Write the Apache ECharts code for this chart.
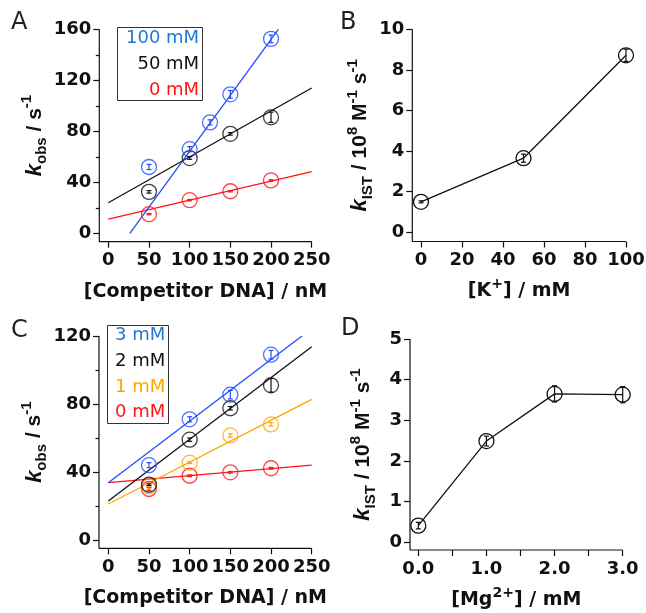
<!DOCTYPE html>
<html>
<head>
<meta charset="utf-8">
<script src="https://cdn.jsdelivr.net/npm/echarts@6.0.0/dist/echarts.min.js"></script>
<style>
    html, body { margin: 0; padding: 0; background: #fff; }
    #chart { width: 646px; height: 613px; }
</style>
</head>
<body>
<div id="chart"></div>
<script type="text/javascript">
    // ---- panel A : k_obs vs competitor DNA, different [K+] ----
    var dnaA_100 = [50, 100, 125, 150, 200];
    var kobsA_100 = [52, 66, 87, 109, 152.5];
    var errA_100 = [2, 2, 2, 3, 3];
    var dnaA = [50, 100, 150, 200];
    var kobsA_50 = [32.5, 59, 78, 91];
    var errA_50 = [1, 1, 1, 4];
    var kobsA_0 = [15, 26, 33, 41.5];
    var errA_0 = [0.5, 0.5, 0.5, 0.5];
    // fitted lines, end points
    var fitA_100 = [[26.5, 0], [209, 160]];
    var fitA_50 = [[0, 24], [250, 114]];
    var fitA_0 = [[0, 11.2], [250, 48.4]];

    // ---- panel B : k_IST vs [K+] ----
    var kConc = [0, 50, 100];
    var kistB = [1.5, 3.65, 8.72];
    var errB = [0.05, 0.2, 0.3];

    // ---- panel C : k_obs vs competitor DNA, different [Mg2+] ----
    var dnaC = [50, 100, 150, 200];
    var kobsC_3 = [44, 71, 85.5, 109];
    var errC_3 = [1.5, 1.5, 2.5, 2.5];
    var kobsC_2 = [32.5, 59, 77.5, 91];
    var errC_2 = [0.5, 1, 1, 4];
    var kobsC_1 = [31.5, 45.5, 61.5, 68];
    var errC_1 = [1.5, 0.5, 1, 1];
    var kobsC_0 = [30, 37.8, 39.8, 42.2];
    var errC_0 = [1, 0.5, 0.5, 0.5];
    var fitC_3 = [[0, 33.7], [238, 120]];
    var fitC_2 = [[0, 23], [250, 113.7]];
    var fitC_1 = [[0, 21.2], [250, 82.7]];
    var fitC_0 = [[0, 33.7], [250, 44.1]];

    // ---- panel D : k_IST vs [Mg2+] ----
    var mgConc = [0, 1, 2, 3];
    var kistD = [0.41, 2.49, 3.65, 3.63];
    var errD = [0.08, 0.12, 0.2, 0.2];

    // tick values
    var ticksDNA = [0, 50, 100, 150, 200, 250];
    var ticksA = [0, 40, 80, 120, 160];
    var minorA = [20, 60, 100, 140];
    var ticksK = [0, 20, 40, 60, 80, 100];
    var ticksB = [0, 2, 4, 6, 8, 10];
    var ticksC = [0, 40, 80, 120];
    var minorC = [20, 60, 100];
    var ticksMg = [0, 0.5, 1, 1.5, 2, 2.5, 3];
    var labelsMg = [0, 1, 2, 3];
    var ticksD = [0, 1, 2, 3, 4, 5];

    var cBlue = '#1f4dff', cBlueText = '#1f78d1', cRed = '#ff1414', cOrange = '#ffa500', cBlack = '#111';

    // pixel frames of the four plots (axis corner, data zero, far end)
    var frames = [
        {left: 99.3, x0: 108.3, right: 311.7, top: 29.3, y0: 233.3, bottom: 241.7, xmax: 250, ymax: 160},
        {left: 412.3, x0: 421, right: 626, top: 29.3, y0: 232.3, bottom: 241.5, xmax: 100, ymax: 10},
        {left: 99, x0: 108.3, right: 311.7, top: 336, y0: 540, bottom: 548.3, xmax: 250, ymax: 120},
        {left: 410, x0: 418.3, right: 622.7, top: 339, y0: 542.3, bottom: 550, xmax: 3, ymax: 5}
    ];

    function pts(xs, ys) {
        return xs.map(function (x, i) { return [x, ys[i]]; });
    }
    function errPts(xs, ys, es) {
        return xs.map(function (x, i) { return [x, ys[i], es[i]]; });
    }

    function lineSt() { return {color: cBlack, width: 1.2}; }
    function tickFont() { return {fontFamily: 'DejaVu Sans', fontWeight: 'bold', fontSize: 18, color: cBlack}; }
    function nameRich() {
        return {
            n: {fontFamily: 'Liberation Sans', fontWeight: 'bold', fontSize: 21, lineHeight: 30, color: cBlack},
            k: {fontFamily: 'Liberation Sans', fontWeight: 'bold', fontStyle: 'italic', fontSize: 22, lineHeight: 30, color: cBlack},
            sub: {fontFamily: 'Liberation Sans', fontWeight: 'bold', fontSize: 15, lineHeight: 15, verticalAlign: 'bottom', color: cBlack},
            sup: {fontFamily: 'Liberation Sans', fontWeight: 'bold', fontSize: 15, lineHeight: 15, verticalAlign: 'top', color: cBlack},
            x: {fontFamily: 'DejaVu Sans', fontWeight: 'bold', fontSize: 19, lineHeight: 28, color: cBlack},
            xs: {fontFamily: 'DejaVu Sans', fontWeight: 'bold', fontSize: 14, lineHeight: 14, verticalAlign: 'top', color: cBlack}
        };
    }

    var grids = [], xAxes = [], yAxes = [];
    frames.forEach(function (f) {
        grids.push({left: f.left, top: f.top, width: f.right - f.left, height: f.bottom - f.top, outerBoundsMode: 'none'});
    });
    function axMin(dim, f) {
        if (dim === 'x') return -(f.x0 - f.left) / ((f.right - f.x0) / f.xmax);
        return -(f.bottom - f.y0) / ((f.y0 - f.top) / f.ymax);
    }
    function baseAxis(dim, i) {
        var f = frames[i];
        return {
            type: 'value', gridIndex: i, position: dim === 'x' ? 'bottom' : 'left',
            min: axMin(dim, f), max: dim === 'x' ? f.xmax : f.ymax,
            axisLine: {show: false, onZero: false},
            axisTick: {show: false},
            axisLabel: {show: false},
            splitLine: {show: false}
        };
    }
    // axis that draws ticks only
    function tickAxis(dim, i, ticks, len) {
        var ax = baseAxis(dim, i);
        ax.axisTick = {show: true, length: len, customValues: ticks, lineStyle: lineSt()};
        return ax;
    }
    // axis that draws tick labels and the axis name only
    function labelAxis(dim, i, labels, name, gap, fmt) {
        var ax = baseAxis(dim, i);
        var lab = tickFont();
        lab.show = true;
        lab.customValues = labels;
        lab.margin = dim === 'x' ? 10 : 8;
        if (fmt) lab.formatter = fmt;
        ax.axisLabel = lab;
        ax.name = name;
        ax.nameLocation = 'middle';
        ax.nameGap = gap;
        ax.nameTextStyle = {rich: nameRich()};
        if (dim === 'y') ax.nameRotate = 90;
        return ax;
    }

    var dnaName = '{x|[Competitor DNA] / nM}';
    var kobsName = '{k|k}{sub|obs}{n| / s}{sup|-1}';
    var kistName = '{k|k}{sub|IST}{n| / 10}{sup|8}{n| M}{sup|-1}{n| s}{sup|-1}';

    // x axes: 0-3 data (hidden), 4-7 ticks, 8-11 labels
    [0, 1, 2, 3].forEach(function (i) { xAxes.push(baseAxis('x', i)); });
    xAxes.push(tickAxis('x', 0, ticksDNA, 6));
    xAxes.push(tickAxis('x', 1, ticksK, 6));
    xAxes.push(tickAxis('x', 2, ticksDNA, 6));
    xAxes.push(tickAxis('x', 3, ticksMg, 6));
    xAxes.push(labelAxis('x', 0, ticksDNA, dnaName, 36));
    xAxes.push(labelAxis('x', 1, ticksK, '{x|[K}{xs|+}{x|] / mM}', 36));
    xAxes.push(labelAxis('x', 2, ticksDNA, dnaName, 36));
    xAxes.push(labelAxis('x', 3, labelsMg, '{x|[Mg}{xs|2+}{x|] / mM}', 36, function (v) { return v.toFixed(1); }));

    // y axes: 0-3 data (hidden), 4-7 ticks, 8-11 labels, 12-13 minor ticks
    [0, 1, 2, 3].forEach(function (i) { yAxes.push(baseAxis('y', i)); });
    yAxes.push(tickAxis('y', 0, ticksA, 6));
    yAxes.push(tickAxis('y', 1, ticksB, 6));
    yAxes.push(tickAxis('y', 2, ticksC, 6));
    yAxes.push(tickAxis('y', 3, ticksD, 6));
    yAxes.push(labelAxis('y', 0, ticksA, kobsName, 44));
    yAxes.push(labelAxis('y', 1, ticksB, kistName, 32));
    yAxes.push(labelAxis('y', 2, ticksC, kobsName, 44));
    yAxes.push(labelAxis('y', 3, ticksD, kistName, 32));
    yAxes.push(tickAxis('y', 0, minorA, 3.5));
    yAxes.push(tickAxis('y', 2, minorC, 3.5));

    function errorBar(params, api) {
        var x = api.value(0), y = api.value(1), e = api.value(2);
        var lo = api.coord([x, y - e]);
        var hi = api.coord([x, y + e]);
        var w = 2.5;
        var st = {stroke: api.visual('color'), lineWidth: 1.2};
        return {
            type: 'group', children: [
                {type: 'line', shape: {x1: lo[0], y1: lo[1], x2: hi[0], y2: hi[1]}, style: st},
                {type: 'line', shape: {x1: lo[0] - w, y1: lo[1], x2: lo[0] + w, y2: lo[1]}, style: st},
                {type: 'line', shape: {x1: hi[0] - w, y1: hi[1], x2: hi[0] + w, y2: hi[1]}, style: st}
            ]
        };
    }

    var series = [];
    // left + bottom axis lines, along the ends of each panel's axes
    frames.forEach(function (f, g) {
        var x0 = axMin('x', f), y0 = axMin('y', f);
        series.push({
            name: 'axes ' + g, type: 'line', xAxisIndex: g, yAxisIndex: g,
            data: [[x0, f.ymax], [x0, y0], [f.xmax, y0]],
            symbol: 'none', showSymbol: false, clip: false, silent: true,
            lineStyle: {color: cBlack, width: 1.2}, z: 1
        });
    });
    function fitSet(g, name, color, fit, xs, ys, es) {
        series.push({
            name: name + ' fit', type: 'line', xAxisIndex: g, yAxisIndex: g, data: fit,
            showSymbol: false, symbol: 'none', lineStyle: {color: color, width: 1.3}, z: 2
        });
        series.push({
            name: name, type: 'scatter', xAxisIndex: g, yAxisIndex: g, data: pts(xs, ys),
            symbol: 'circle', symbolSize: 15,
            itemStyle: {color: 'rgba(0,0,0,0)', borderColor: color, borderWidth: 1.3}, z: 3
        });
        series.push({
            name: name + ' err', type: 'custom', xAxisIndex: g, yAxisIndex: g,
            data: errPts(xs, ys, es), renderItem: errorBar, itemStyle: {color: color}, z: 4
        });
    }
    function trendSet(g, name, xs, ys, es) {
        series.push({
            name: name, type: 'line', xAxisIndex: g, yAxisIndex: g, data: pts(xs, ys),
            symbol: 'circle', symbolSize: 15, showSymbol: true,
            lineStyle: {color: cBlack, width: 1.3},
            itemStyle: {color: 'rgba(0,0,0,0)', borderColor: cBlack, borderWidth: 1.3}, z: 3
        });
        series.push({
            name: name + ' err', type: 'custom', xAxisIndex: g, yAxisIndex: g,
            data: errPts(xs, ys, es), renderItem: errorBar, itemStyle: {color: cBlack}, z: 4
        });
    }

    fitSet(0, '0 mM K', cRed, fitA_0, dnaA, kobsA_0, errA_0);
    fitSet(0, '50 mM K', cBlack, fitA_50, dnaA, kobsA_50, errA_50);
    fitSet(0, '100 mM K', cBlue, fitA_100, dnaA_100, kobsA_100, errA_100);
    trendSet(1, 'kIST K', kConc, kistB, errB);
    fitSet(2, '0 mM Mg', cRed, fitC_0, dnaC, kobsC_0, errC_0);
    fitSet(2, '1 mM Mg', cOrange, fitC_1, dnaC, kobsC_1, errC_1);
    fitSet(2, '2 mM Mg', cBlack, fitC_2, dnaC, kobsC_2, errC_2);
    fitSet(2, '3 mM Mg', cBlue, fitC_3, dnaC, kobsC_3, errC_3);
    trendSet(3, 'kIST Mg', mgConc, kistD, errD);

    function letterStyle() { return {fontFamily: 'DejaVu Sans', fontWeight: 'normal', fontSize: 24, color: '#222'}; }
    function legStyle(color) {
        return {color: color, fontFamily: 'DejaVu Sans', fontWeight: 'normal', fontSize: 18, lineHeight: 25.6, align: 'right'};
    }

    var option = {
        animation: false,
        title: [
            {text: 'A', left: 11, top: 11, padding: 0, textStyle: letterStyle()},
            {text: 'B', left: 340, top: 11, padding: 0, textStyle: letterStyle()},
            {text: 'C', left: 11, top: 319, padding: 0, textStyle: letterStyle()},
            {text: 'D', left: 341, top: 317, padding: 0, textStyle: letterStyle()},
            {
                text: '{b|100 mM}\n{k|50 mM}\n{r|0 mM}', left: 117, top: 23,
                padding: [3, 4, 2, 9], borderColor: '#333', borderWidth: 1,
                textStyle: {fontWeight: 'normal', rich: {b: legStyle(cBlueText), k: legStyle(cBlack), r: legStyle(cRed)}}
            },
            {
                text: '{b|3 mM}\n{k|2 mM}\n{o|1 mM}\n{r|0 mM}', left: 107, top: 321,
                padding: [2, 4, 2, 8], borderColor: '#333', borderWidth: 1,
                textStyle: {fontWeight: 'normal', rich: {b: legStyle(cBlueText), k: legStyle(cBlack), o: legStyle(cOrange), r: legStyle(cRed)}}
            }
        ],
        grid: grids,
        xAxis: xAxes,
        yAxis: yAxes,
        series: series
    };

    var myChart = echarts.init(document.getElementById('chart'));
    myChart.setOption(option);
</script>
</body>
</html>
